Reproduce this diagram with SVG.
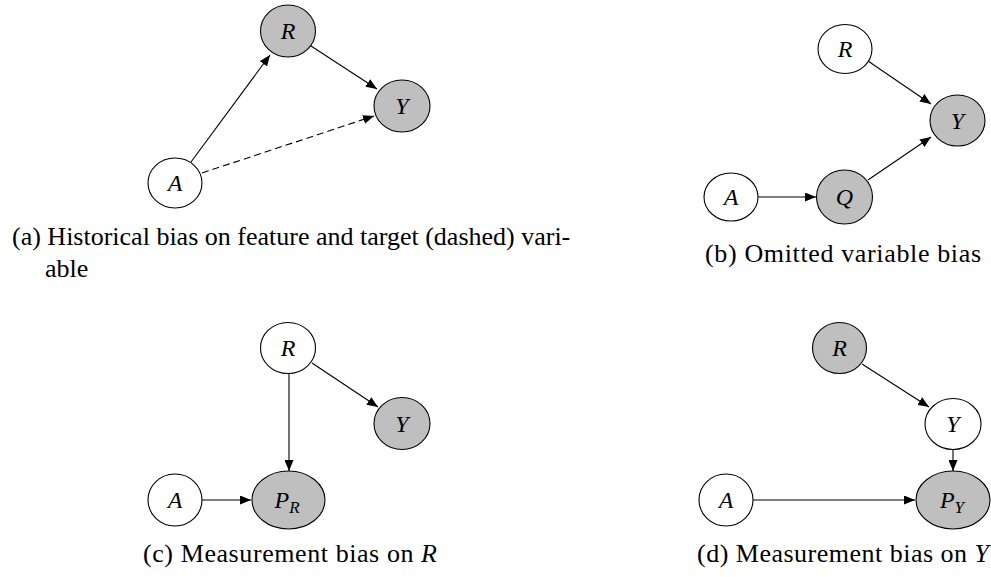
<svg xmlns="http://www.w3.org/2000/svg" width="991" height="577" viewBox="0 0 991 577">
<style>
.n{stroke:#000;stroke-width:1.1}
.w{fill:#fff}
.g{fill:#bfbfbf}
.lbl{font-family:"Liberation Serif","DejaVu Serif",serif;font-style:italic;font-size:24px;text-anchor:middle;fill:#000}
.sub{font-size:17px}
.e{stroke:#000;stroke-width:1.1;fill:none;marker-end:url(#ah)}
.d{stroke-dasharray:7,4}
.cap{font-family:"Liberation Serif","DejaVu Serif",serif;font-size:26px;fill:#000}
.m{font-style:italic}
</style>
<defs>
<marker id="ah" markerUnits="userSpaceOnUse" markerWidth="11" markerHeight="9" refX="11" refY="4.5" orient="auto">
<path d="M0,0 L11,4.5 L0,9 z" fill="#000"/>
</marker>
</defs>
<rect width="991" height="577" fill="#fff"/>
<g id="connectors">
<line class="e" x1="191" y1="162" x2="270" y2="55"/>
<line class="e" x1="311" y1="46" x2="377" y2="89"/>
<line class="e d" x1="202" y1="173" x2="374" y2="116"/>
<line class="e" x1="868" y1="61" x2="931" y2="104"/>
<line class="e" x1="758" y1="197" x2="816" y2="197"/>
<line class="e" x1="868" y1="180" x2="931" y2="137"/>
<line class="e" x1="289" y1="374" x2="289" y2="471"/>
<line class="e" x1="312" y1="363" x2="378" y2="407"/>
<line class="e" x1="202" y1="500" x2="251" y2="500"/>
<line class="e" x1="862" y1="364" x2="929" y2="407"/>
<line class="e" x1="953" y1="450" x2="953" y2="471"/>
<line class="e" x1="753" y1="500" x2="915" y2="500"/>
</g>
<g id="a-R"><ellipse class="n g" cx="288" cy="31" rx="27.5" ry="26"/><text class="lbl" x="288" y="39">R</text></g>
<g id="a-Y"><ellipse class="n g" cx="402" cy="106" rx="28" ry="26"/><text class="lbl" x="402" y="114">Y</text></g>
<g id="a-A"><ellipse class="n w" cx="175" cy="183" rx="27" ry="25"/><text class="lbl" x="175" y="191">A</text></g>
<g id="b-R"><ellipse class="n w" cx="845" cy="49" rx="27" ry="24.5"/><text class="lbl" x="845" y="57">R</text></g>
<g id="b-Y"><ellipse class="n g" cx="957.5" cy="120.5" rx="27.5" ry="25.5"/><text class="lbl" x="957.5" y="128.5">Y</text></g>
<g id="b-A"><ellipse class="n w" cx="731" cy="197" rx="27" ry="24"/><text class="lbl" x="731" y="205">A</text></g>
<g id="b-Q"><ellipse class="n g" cx="844.5" cy="197" rx="28" ry="27"/><text class="lbl" x="844.5" y="205">Q</text></g>
<g id="c-R"><ellipse class="n w" cx="288" cy="348" rx="27.5" ry="25.5"/><text class="lbl" x="288" y="356">R</text></g>
<g id="c-Y"><ellipse class="n g" cx="402" cy="423.5" rx="28" ry="26"/><text class="lbl" x="402" y="431.5">Y</text></g>
<g id="c-A"><ellipse class="n w" cx="175" cy="500" rx="27" ry="26"/><text class="lbl" x="175" y="508">A</text></g>
<g id="c-PR"><ellipse class="n g" cx="288.5" cy="500" rx="36.5" ry="29"/><text class="lbl" x="287" y="508">P<tspan class="sub" dy="5">R</tspan></text></g>
<g id="d-R"><ellipse class="n g" cx="839.5" cy="348" rx="27" ry="25.5"/><text class="lbl" x="839.5" y="356">R</text></g>
<g id="d-Y"><ellipse class="n w" cx="953" cy="424" rx="28" ry="25.5"/><text class="lbl" x="953" y="432">Y</text></g>
<g id="d-A"><ellipse class="n w" cx="726" cy="500" rx="27" ry="26"/><text class="lbl" x="726" y="508">A</text></g>
<g id="d-PY"><ellipse class="n g" cx="953" cy="500" rx="37" ry="29"/><text class="lbl" x="952" y="508">P<tspan class="sub" dy="5">Y</tspan></text></g>
<g id="captions">
<text class="cap" x="12" y="245">(a) Historical bias on feature and target (dashed) vari-</text>
<text class="cap" x="45" y="277">able</text>
<text class="cap" x="705" y="262" textLength="276" lengthAdjust="spacing">(b) Omitted variable bias</text>
<text class="cap" x="143" y="562" textLength="294" lengthAdjust="spacing">(c) Measurement bias on <tspan class="m">R</tspan></text>
<text class="cap" x="697" y="562" textLength="292" lengthAdjust="spacing">(d) Measurement bias on <tspan class="m">Y</tspan></text>
</g>
</svg>
